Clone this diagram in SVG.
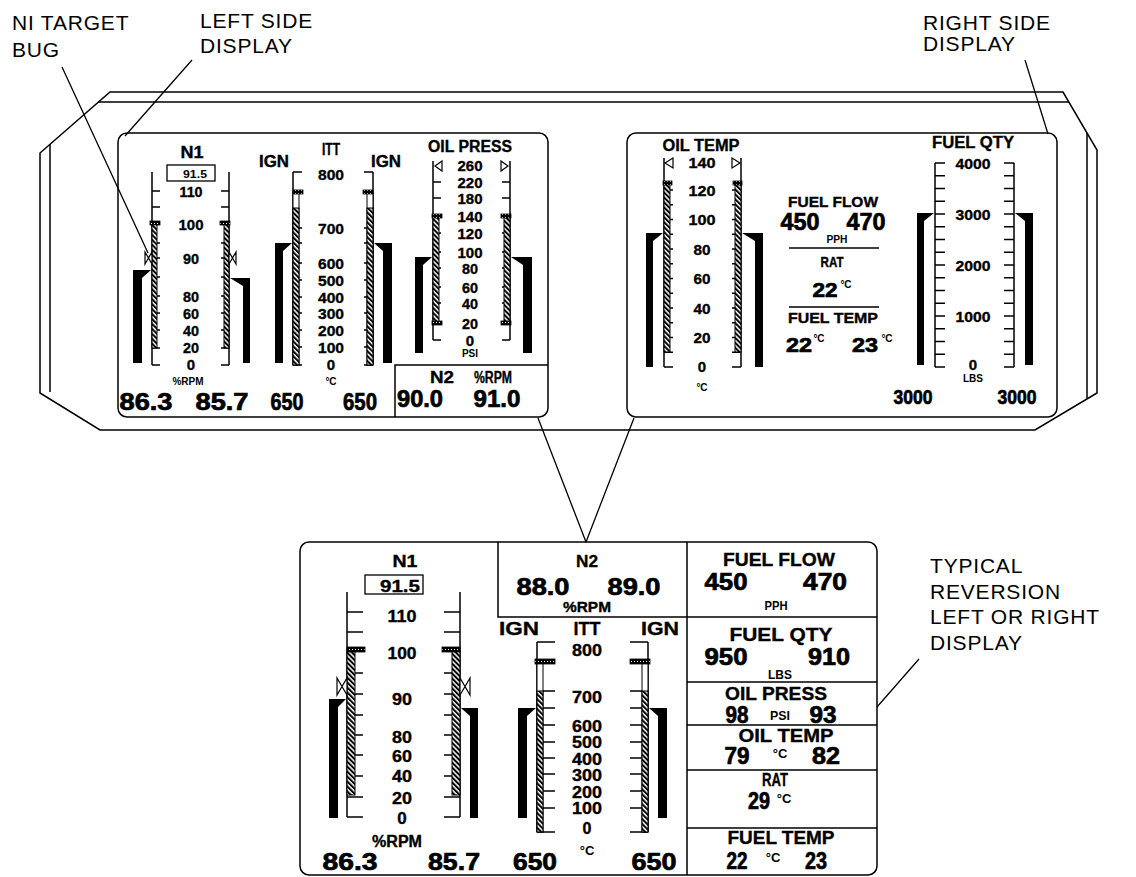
<svg xmlns="http://www.w3.org/2000/svg" width="1136" height="877" viewBox="0 0 1136 877">
<style>
.ln{fill:none;stroke:#000;stroke-width:1.5}
.tk{fill:none;stroke:#000;stroke-width:1.4}
.bar{fill:#000;stroke:none}
.hb{fill:url(#hatch);stroke:#000;stroke-width:1}
.wb{fill:#fff;stroke:#000;stroke-width:1}
.cap{fill:url(#dots);stroke:#000;stroke-width:0.8}
.tri{fill:#fff;stroke:#000;stroke-width:1.2}
.cl{font-family:"Liberation Sans",Arial,sans-serif;font-size:21px;letter-spacing:0.8px;fill:#000}
.b{font-family:"Liberation Sans",Arial,sans-serif;font-weight:bold;text-anchor:middle;fill:#000}
.hv{stroke:#000;stroke-width:0.7px}
.md{stroke:#000;stroke-width:0.35px}
.s10{font-size:10px}.s11{font-size:11px}.s13{font-size:13px}.s14{font-size:14px}.s15{font-size:15px}.s16{font-size:16px}.s17{font-size:17px}.s18{font-size:18px}.s19{font-size:19px}.s20{font-size:20px}.s21{font-size:21px}.s23{font-size:23px}.s24{font-size:24px}.s25{font-size:25px}
</style>
<defs>
<pattern id="hatch" patternUnits="userSpaceOnUse" width="3.5" height="3.5" patternTransform="rotate(-45)"><rect width="3.5" height="3.5" fill="#fff"/><rect width="2" height="3.5" fill="#000"/></pattern>
<pattern id="dots" patternUnits="userSpaceOnUse" width="3" height="3"><rect width="3" height="3" fill="#000"/><rect x="1" y="1" width="1" height="1" fill="#fff"/></pattern>
</defs>
<rect width="1136" height="877" fill="#fff"/>

<g id="bezel">
<path class="ln" d="M110,92 H1063 L1097,150 V393 L1035,430 H100 L40,393 V153 Z"/>
<path class="ln" d="M98,102 H1069 M50,144 V392 M1087,133 V399"/>
</g>

<g id="left-display">
<rect class="ln" x="118" y="133" width="430" height="284" rx="9"/>
<g id="l-n1">
<text class="b s16 md" x="192" y="158" textLength="23" lengthAdjust="spacingAndGlyphs">N1</text>
<rect class="ln" x="167" y="165" width="48" height="16" style="stroke-width:1.3"/>
<text class="b s11" x="195" y="178" textLength="24" lengthAdjust="spacingAndGlyphs">91.5</text>
<path class="ln" d="M152,172V365 M229,172V365"/>
<path class="tk" d="M152,191h8M152,207h8M152,224h8M152,243h8M152,258h8M152,277h8M152,296h8M152,313h8M152,330h8M152,348h8M152,365h8 M229,191h-8M229,207h-8M229,224h-8M229,243h-8M229,258h-8M229,277h-8M229,296h-8M229,313h-8M229,330h-8M229,348h-8M229,365h-8"/>
<rect class="hb" x="152" y="224" width="5" height="124"/>
<rect class="hb" x="224" y="224" width="5" height="124"/>
<rect class="cap" x="150" y="221" width="10" height="4"/>
<rect class="cap" x="220" y="221" width="10" height="4"/>
<polygon class="tri" points="145,252 152,264 152,252 145,264"/>
<polygon class="tri" points="236,252 229,264 229,252 236,264"/>
<polygon class="bar" points="133,270 151,270 142,278 142,363 133,363"/>
<polygon class="bar" points="230,278 250,278 250,363 243,363 243,286"/>
<g class="b s15 md">
<text x="191" y="196.5" textLength="23" lengthAdjust="spacingAndGlyphs">110</text>
<text x="191" y="229.5" textLength="25" lengthAdjust="spacingAndGlyphs">100</text>
<text x="191" y="263.5" textLength="16" lengthAdjust="spacingAndGlyphs">90</text>
<text x="191" y="301.5" textLength="16" lengthAdjust="spacingAndGlyphs">80</text>
<text x="191" y="318.5" textLength="16" lengthAdjust="spacingAndGlyphs">60</text>
<text x="191" y="335.5" textLength="16" lengthAdjust="spacingAndGlyphs">40</text>
<text x="191" y="352.5" textLength="16" lengthAdjust="spacingAndGlyphs">20</text>
<text x="191" y="370">0</text>
</g>
<text class="b s11" x="188" y="385" textLength="31" lengthAdjust="spacingAndGlyphs">%RPM</text>
<text class="b s23 hv" x="146" y="410" textLength="53" lengthAdjust="spacingAndGlyphs">86.3</text>
<text class="b s23 hv" x="222" y="410" textLength="53" lengthAdjust="spacingAndGlyphs">85.7</text>
</g>
<g id="l-itt">
<text class="b s16 md" x="274" y="167" textLength="30" lengthAdjust="spacingAndGlyphs">IGN</text>
<text class="b s16 md" x="331" y="155" textLength="18" lengthAdjust="spacingAndGlyphs">ITT</text>
<text class="b s16 md" x="386" y="167" textLength="30" lengthAdjust="spacingAndGlyphs">IGN</text>
<path class="ln" d="M293,172V365 M373,172V365"/>
<path class="tk" d="M293,172h9M293,228h9M293,243h9M293,263h9M293,280h9M293,297h9M293,313h9M293,330h9M293,347h9M293,365h9 M373,172h-9M373,228h-9M373,243h-9M373,263h-9M373,280h-9M373,297h-9M373,313h-9M373,330h-9M373,347h-9M373,365h-9"/>
<rect class="wb" x="293" y="192" width="6" height="173"/>
<rect class="hb" x="293" y="208" width="6" height="157"/>
<rect class="wb" x="367" y="192" width="6" height="173"/>
<rect class="hb" x="367" y="208" width="6" height="157"/>
<rect class="cap" x="293" y="190" width="10" height="4"/>
<rect class="cap" x="363" y="190" width="10" height="4"/>
<polygon class="bar" points="275,243 292,243 283,251 283,363 275,363"/>
<polygon class="bar" points="374,243 392,243 392,363 383,363 383,251"/>
<g class="b s15 md">
<text x="331" y="179.5" textLength="26" lengthAdjust="spacingAndGlyphs">800</text>
<text x="331" y="233.5" textLength="26" lengthAdjust="spacingAndGlyphs">700</text>
<text x="331" y="268.5" textLength="26" lengthAdjust="spacingAndGlyphs">600</text>
<text x="331" y="285.5" textLength="26" lengthAdjust="spacingAndGlyphs">500</text>
<text x="331" y="302.5" textLength="26" lengthAdjust="spacingAndGlyphs">400</text>
<text x="331" y="318.5" textLength="26" lengthAdjust="spacingAndGlyphs">300</text>
<text x="331" y="335.5" textLength="26" lengthAdjust="spacingAndGlyphs">200</text>
<text x="331" y="352.5" textLength="26" lengthAdjust="spacingAndGlyphs">100</text>
<text x="331" y="370">0</text>
</g>
<text class="b s10" x="331" y="385">°C</text>
<text class="b s23 hv" x="287" y="410" textLength="33" lengthAdjust="spacingAndGlyphs">650</text>
<text class="b s23 hv" x="360" y="410" textLength="34" lengthAdjust="spacingAndGlyphs">650</text>
</g>
<g id="l-oilpress">
<text class="b s16 md" x="470" y="152" textLength="84" lengthAdjust="spacingAndGlyphs">OIL PRESS</text>
<path class="ln" d="M433,161V340 M510,161V340"/>
<path class="tk" d="M433,182h8M433,198h8M433,216h8M433,233h8M433,252h8M433,268h8M433,287h8M433,303h8M433,323h8M433,340h8 M510,182h-8M510,198h-8M510,216h-8M510,233h-8M510,252h-8M510,268h-8M510,287h-8M510,303h-8M510,323h-8M510,340h-8"/>
<polygon class="tri" points="442,161 435,166 442,171"/>
<polygon class="tri" points="501,161 508,166 501,171"/>
<rect class="hb" x="433" y="216" width="6" height="107"/>
<rect class="hb" x="504" y="216" width="6" height="107"/>
<rect class="cap" x="432" y="214" width="10" height="4"/>
<rect class="cap" x="432" y="321" width="10" height="4"/>
<rect class="cap" x="501" y="214" width="10" height="4"/>
<rect class="cap" x="501" y="321" width="10" height="4"/>
<polygon class="bar" points="415,257 432,257 423,265 423,353 415,353"/>
<polygon class="bar" points="511,257 532,257 532,353 523,353 523,265"/>
<g class="b s15 md">
<text x="470" y="170.5" textLength="25" lengthAdjust="spacingAndGlyphs">260</text>
<text x="470" y="187.5" textLength="25" lengthAdjust="spacingAndGlyphs">220</text>
<text x="470" y="203.5" textLength="25" lengthAdjust="spacingAndGlyphs">180</text>
<text x="470" y="221.5" textLength="25" lengthAdjust="spacingAndGlyphs">140</text>
<text x="470" y="238.5" textLength="25" lengthAdjust="spacingAndGlyphs">120</text>
<text x="470" y="257.5" textLength="25" lengthAdjust="spacingAndGlyphs">100</text>
<text x="470" y="273.5" textLength="16" lengthAdjust="spacingAndGlyphs">80</text>
<text x="470" y="292.5" textLength="16" lengthAdjust="spacingAndGlyphs">60</text>
<text x="470" y="308.5" textLength="16" lengthAdjust="spacingAndGlyphs">40</text>
<text x="470" y="328.5" textLength="16" lengthAdjust="spacingAndGlyphs">20</text>
<text x="470" y="345.5">0</text>
</g>
<text class="b s10" x="470" y="357">PSI</text>
</g>
<g id="l-n2">
<path class="ln" d="M395,417V365H548"/>
<text class="b s16 md" x="442" y="383" textLength="24" lengthAdjust="spacingAndGlyphs">N2</text>
<text class="b s16 md" x="493" y="383" textLength="38" lengthAdjust="spacingAndGlyphs">%RPM</text>
<text class="b s23 hv" x="420" y="407" textLength="46" lengthAdjust="spacingAndGlyphs">90.0</text>
<text class="b s23 hv" x="497" y="407" textLength="47" lengthAdjust="spacingAndGlyphs">91.0</text>
</g>
</g>

<g id="right-display">
<rect class="ln" x="627" y="133" width="430" height="284" rx="9"/>
<g id="r-oiltemp">
<text class="b s16 md" x="701" y="150.5" textLength="77" lengthAdjust="spacingAndGlyphs">OIL TEMP</text>
<path class="ln" d="M664,158V367 M741,158V367"/>
<path class="tk" d="M664,190h9M664,204.8h9M664,219.5h9M664,234.3h9M664,249h9M664,263.8h9M664,278.5h9M664,293.3h9M664,308h9M664,322.8h9M664,337.5h9M664,352.3h9M664,367h9 M741,190h-9M741,204.8h-9M741,219.5h-9M741,234.3h-9M741,249h-9M741,263.8h-9M741,278.5h-9M741,293.3h-9M741,308h-9M741,322.8h-9M741,337.5h-9M741,352.3h-9M741,367h-9"/>
<polygon class="tri" points="673,158 665,163 673,168"/>
<polygon class="tri" points="732,158 740,163 732,168"/>
<rect class="hb" x="664" y="183" width="6" height="169"/>
<rect class="hb" x="735" y="183" width="6" height="169"/>
<rect class="cap" x="663" y="181" width="9" height="4"/>
<rect class="cap" x="733" y="181" width="9" height="4"/>
<polygon class="bar" points="646,233 663,233 653,241 653,367 646,367"/>
<polygon class="bar" points="742,233 763,233 763,367 755,367 755,241"/>
<g class="b s15 md">
<text x="702" y="168" textLength="27" lengthAdjust="spacingAndGlyphs">140</text>
<text x="702" y="195.5" textLength="27" lengthAdjust="spacingAndGlyphs">120</text>
<text x="702" y="225" textLength="27" lengthAdjust="spacingAndGlyphs">100</text>
<text x="702" y="254.5" textLength="17" lengthAdjust="spacingAndGlyphs">80</text>
<text x="702" y="284" textLength="17" lengthAdjust="spacingAndGlyphs">60</text>
<text x="702" y="313.5" textLength="17" lengthAdjust="spacingAndGlyphs">40</text>
<text x="702" y="343" textLength="17" lengthAdjust="spacingAndGlyphs">20</text>
<text x="702" y="372">0</text>
</g>
<text class="b s10" x="702" y="391">°C</text>
</g>
<g id="r-center">
<text class="b s14 md" x="833" y="207" textLength="90" lengthAdjust="spacingAndGlyphs">FUEL FLOW</text>
<text class="b s23 hv" x="800" y="230" textLength="39" lengthAdjust="spacingAndGlyphs">450</text>
<text class="b s23 hv" x="866" y="230" textLength="39" lengthAdjust="spacingAndGlyphs">470</text>
<text class="b s10" x="837" y="243" textLength="21" lengthAdjust="spacingAndGlyphs">PPH</text>
<path class="ln" d="M789,248H879 M789,307H879"/>
<text class="b s14 md" x="832" y="267" textLength="23" lengthAdjust="spacingAndGlyphs">RAT</text>
<text class="b s20 hv" x="825" y="297" textLength="25" lengthAdjust="spacingAndGlyphs">22</text>
<text class="b s10" x="846" y="288">°C</text>
<text class="b s14 md" x="833" y="323" textLength="90" lengthAdjust="spacingAndGlyphs">FUEL TEMP</text>
<text class="b s20 hv" x="799" y="352" textLength="26" lengthAdjust="spacingAndGlyphs">22</text>
<text class="b s10" x="819" y="342">°C</text>
<text class="b s20 hv" x="865" y="352" textLength="26" lengthAdjust="spacingAndGlyphs">23</text>
<text class="b s10" x="887" y="342">°C</text>
</g>
<g id="r-fuelqty">
<text class="b s16 md" x="973" y="148" textLength="82" lengthAdjust="spacingAndGlyphs">FUEL QTY</text>
<path class="ln" d="M935,163V367 M1014,163V367"/>
<path class="tk" d="M935,163h10M935,175.75h10M935,188.5h10M935,201.25h10M935,214h10M935,226.75h10M935,239.5h10M935,252.25h10M935,265h10M935,277.75h10M935,290.5h10M935,303.25h10M935,316h10M935,328.75h10M935,341.5h10M935,354.25h10M935,367h10 M1014,163h-10M1014,175.75h-10M1014,188.5h-10M1014,201.25h-10M1014,214h-10M1014,226.75h-10M1014,239.5h-10M1014,252.25h-10M1014,265h-10M1014,277.75h-10M1014,290.5h-10M1014,303.25h-10M1014,316h-10M1014,328.75h-10M1014,341.5h-10M1014,354.25h-10M1014,367h-10"/>
<polygon class="bar" points="917,213 934,213 924,221 924,365 917,365"/>
<polygon class="bar" points="1015,213 1033,213 1033,365 1025,365 1025,221"/>
<g class="b s15 md">
<text x="973" y="168.5" textLength="35" lengthAdjust="spacingAndGlyphs">4000</text>
<text x="973" y="219.5" textLength="35" lengthAdjust="spacingAndGlyphs">3000</text>
<text x="973" y="270.5" textLength="35" lengthAdjust="spacingAndGlyphs">2000</text>
<text x="973" y="321.5" textLength="35" lengthAdjust="spacingAndGlyphs">1000</text>
<text x="973" y="370">0</text>
</g>
<text class="b s10" x="973" y="382">LBS</text>
<text class="b s21 hv" x="913" y="404" textLength="39" lengthAdjust="spacingAndGlyphs">3000</text>
<text class="b s21 hv" x="1017" y="404" textLength="39" lengthAdjust="spacingAndGlyphs">3000</text>
</g>
</g>

<g id="reversion-display">
<rect class="ln" x="300" y="542" width="577" height="333" rx="9"/>
<g id="b-n1">
<text class="b s17 md" x="405" y="567" textLength="25" lengthAdjust="spacingAndGlyphs">N1</text>
<rect class="ln" x="365" y="575" width="58" height="19" style="stroke-width:1.3"/>
<text class="b s17 md" x="400" y="592" textLength="40" lengthAdjust="spacingAndGlyphs">91.5</text>
<path class="ln" d="M347,592V817 M460,592V817"/>
<path class="tk" d="M347,612h16M347,632h16M347,650h16M347,673h16M347,694h16M347,715h16M347,735h16M347,755h16M347,776h16M347,797h16M347,817h16 M460,612h-16M460,632h-16M460,650h-16M460,673h-16M460,694h-16M460,715h-16M460,735h-16M460,755h-16M460,776h-16M460,797h-16M460,817h-16"/>
<rect class="hb" x="347" y="650" width="8" height="145"/>
<rect class="hb" x="452" y="650" width="8" height="145"/>
<rect class="cap" x="347" y="647" width="18" height="5"/>
<rect class="cap" x="442" y="647" width="18" height="5"/>
<polygon class="tri" points="337,678 347,695 347,678 337,695"/>
<polygon class="tri" points="470,678 460,695 460,678 470,695"/>
<polygon class="bar" points="329,699 346,699 338,707 338,818 329,818"/>
<polygon class="bar" points="461,708 478,708 478,818 470,818 470,716"/>
<g class="b s17 md">
<text x="402" y="621.5" textLength="29" lengthAdjust="spacingAndGlyphs">110</text>
<text x="402" y="658.5" textLength="29" lengthAdjust="spacingAndGlyphs">100</text>
<text x="402" y="704.5" textLength="20" lengthAdjust="spacingAndGlyphs">90</text>
<text x="402" y="743" textLength="20" lengthAdjust="spacingAndGlyphs">80</text>
<text x="402" y="762" textLength="20" lengthAdjust="spacingAndGlyphs">60</text>
<text x="402" y="782" textLength="20" lengthAdjust="spacingAndGlyphs">40</text>
<text x="402" y="804" textLength="20" lengthAdjust="spacingAndGlyphs">20</text>
<text x="402" y="824">0</text>
</g>
<text class="b s16 md" x="397" y="847" textLength="50" lengthAdjust="spacingAndGlyphs">%RPM</text>
<text class="b s24 hv" x="350" y="870" textLength="55" lengthAdjust="spacingAndGlyphs">86.3</text>
<text class="b s24 hv" x="454" y="870" textLength="52" lengthAdjust="spacingAndGlyphs">85.7</text>
</g>
<g id="b-n2">
<path class="ln" d="M498,542V617H687"/>
<text class="b s17 md" x="587" y="567" textLength="22" lengthAdjust="spacingAndGlyphs">N2</text>
<text class="b s24 hv" x="543" y="595" textLength="53" lengthAdjust="spacingAndGlyphs">88.0</text>
<text class="b s24 hv" x="634" y="595" textLength="53" lengthAdjust="spacingAndGlyphs">89.0</text>
<text class="b s14 md" x="587" y="612" textLength="48" lengthAdjust="spacingAndGlyphs">%RPM</text>
</g>
<g id="b-itt">
<text class="b s19 md" x="519" y="635" textLength="40" lengthAdjust="spacingAndGlyphs">IGN</text>
<text class="b s19 md" x="587" y="635" textLength="27" lengthAdjust="spacingAndGlyphs">ITT</text>
<text class="b s19 md" x="660" y="635" textLength="38" lengthAdjust="spacingAndGlyphs">IGN</text>
<path class="ln" d="M537,642V832 M648,642V832"/>
<path class="tk" d="M537,642h18M537,691h18M537,708h18M537,725h18M537,742h18M537,758h18M537,774h18M537,791h18M537,808h18M537,832h18 M648,642h-18M648,691h-18M648,708h-18M648,725h-18M648,742h-18M648,758h-18M648,774h-18M648,791h-18M648,808h-18M648,832h-18"/>
<rect class="wb" x="537" y="661" width="6" height="171"/>
<rect class="hb" x="537" y="691" width="6" height="141"/>
<rect class="wb" x="642" y="661" width="6" height="171"/>
<rect class="hb" x="642" y="691" width="6" height="141"/>
<rect class="cap" x="535" y="659" width="20" height="5"/>
<rect class="cap" x="630" y="659" width="20" height="5"/>
<polygon class="bar" points="518,708 536,708 527,716 527,818 518,818"/>
<polygon class="bar" points="649,708 667,708 667,818 658,818 658,716"/>
<g class="b s16 md">
<text x="587" y="656" textLength="30" lengthAdjust="spacingAndGlyphs">800</text>
<text x="587" y="703" textLength="30" lengthAdjust="spacingAndGlyphs">700</text>
<text x="587" y="732" textLength="30" lengthAdjust="spacingAndGlyphs">600</text>
<text x="587" y="748" textLength="30" lengthAdjust="spacingAndGlyphs">500</text>
<text x="587" y="765" textLength="30" lengthAdjust="spacingAndGlyphs">400</text>
<text x="587" y="781" textLength="30" lengthAdjust="spacingAndGlyphs">300</text>
<text x="587" y="798" textLength="30" lengthAdjust="spacingAndGlyphs">200</text>
<text x="587" y="814" textLength="30" lengthAdjust="spacingAndGlyphs">100</text>
<text x="587" y="834">0</text>
</g>
<text class="b s13" x="587" y="855">°C</text>
<text class="b s24 hv" x="535" y="870" textLength="44" lengthAdjust="spacingAndGlyphs">650</text>
<text class="b s24 hv" x="654" y="870" textLength="45" lengthAdjust="spacingAndGlyphs">650</text>
</g>
<g id="b-table">
<path class="ln" d="M687,542V875 M687,617H877 M687,682H877 M687,725H877 M687,770H877 M687,828H877"/>
<text class="b s19 md" x="779" y="566" textLength="112" lengthAdjust="spacingAndGlyphs">FUEL FLOW</text>
<text class="b s23 hv" x="726" y="590" textLength="43" lengthAdjust="spacingAndGlyphs">450</text>
<text class="b s23 hv" x="825" y="590" textLength="44" lengthAdjust="spacingAndGlyphs">470</text>
<text class="b s13" x="776" y="610" textLength="23" lengthAdjust="spacingAndGlyphs">PPH</text>
<text class="b s19 md" x="781" y="641" textLength="103" lengthAdjust="spacingAndGlyphs">FUEL QTY</text>
<text class="b s23 hv" x="726" y="665" textLength="43" lengthAdjust="spacingAndGlyphs">950</text>
<text class="b s23 hv" x="829" y="665" textLength="42" lengthAdjust="spacingAndGlyphs">910</text>
<text class="b s13" x="780" y="679" textLength="24" lengthAdjust="spacingAndGlyphs">LBS</text>
<text class="b s19 md" x="776" y="700" textLength="102" lengthAdjust="spacingAndGlyphs">OIL PRESS</text>
<text class="b s23 hv" x="737" y="723" textLength="23" lengthAdjust="spacingAndGlyphs">98</text>
<text class="b s13" x="780" y="720" textLength="20" lengthAdjust="spacingAndGlyphs">PSI</text>
<text class="b s23 hv" x="823" y="723" textLength="27" lengthAdjust="spacingAndGlyphs">93</text>
<text class="b s19 md" x="786" y="742" textLength="95" lengthAdjust="spacingAndGlyphs">OIL TEMP</text>
<text class="b s23 hv" x="737" y="764" textLength="25" lengthAdjust="spacingAndGlyphs">79</text>
<text class="b s13" x="780" y="758">°C</text>
<text class="b s23 hv" x="826" y="764" textLength="28" lengthAdjust="spacingAndGlyphs">82</text>
<text class="b s19 md" x="775" y="786" textLength="26" lengthAdjust="spacingAndGlyphs">RAT</text>
<text class="b s23 hv" x="759" y="809" textLength="22" lengthAdjust="spacingAndGlyphs">29</text>
<text class="b s13" x="784" y="803">°C</text>
<text class="b s19 md" x="781" y="844" textLength="107" lengthAdjust="spacingAndGlyphs">FUEL TEMP</text>
<text class="b s23 hv" x="737" y="869" textLength="21" lengthAdjust="spacingAndGlyphs">22</text>
<text class="b s13" x="773" y="862">°C</text>
<text class="b s23 hv" x="816" y="869" textLength="22" lengthAdjust="spacingAndGlyphs">23</text>
</g>
</g>

<g id="callouts">
<text class="cl" x="12" y="30">NI TARGET</text>
<text class="cl" x="12" y="57">BUG</text>
<text class="cl" x="200" y="28">LEFT SIDE</text>
<text class="cl" x="200" y="53">DISPLAY</text>
<text class="cl" x="923" y="30">RIGHT SIDE</text>
<text class="cl" x="923" y="51">DISPLAY</text>
<text class="cl" x="930" y="573">TYPICAL</text>
<text class="cl" x="930" y="599">REVERSION</text>
<text class="cl" x="930" y="624">LEFT OR RIGHT</text>
<text class="cl" x="930" y="650">DISPLAY</text>
</g>

<g id="connectors">
<path class="ln" style="stroke-width:1.3" d="M62,67L148,253 M192,60L125,136 M1025,60L1048,134 M919,659L877,707 M538,418L586,542 M634,418L586,542"/>
</g>
</svg>
